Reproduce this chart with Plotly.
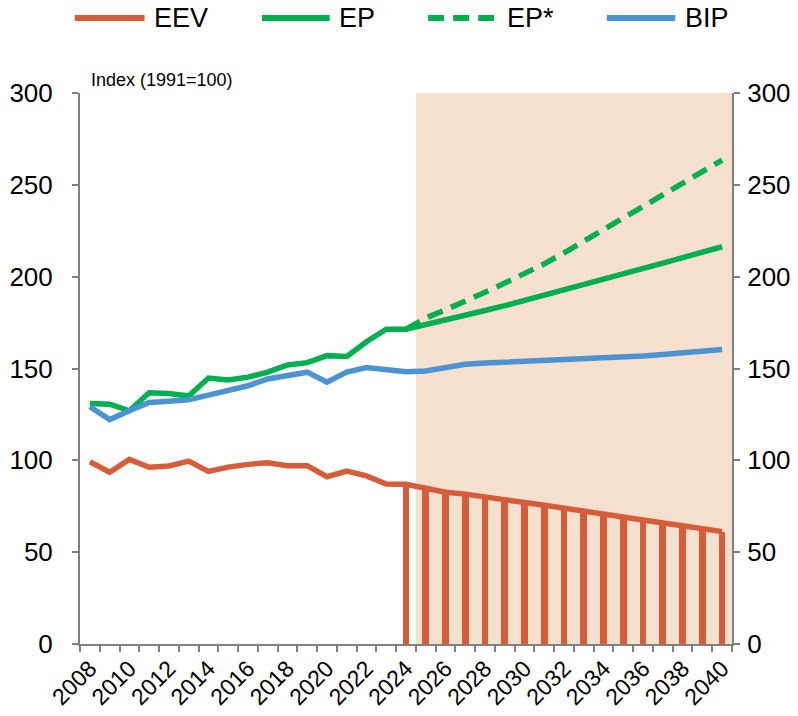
import plotly.graph_objects as go

years = list(range(2008, 2041))
year_labels = [str(y) for y in range(2008, 2041, 2)]

eev = [99.2, 93.5, 100.5, 96.2, 96.9, 99.6, 94.0, 96.3, 97.8, 98.7, 97.1, 97.1, 91.1, 94.2, 91.5, 87.1, 87.0,
       84.5, 82.6, 81.6, 80.3, 78.5, 77.0, 75.6, 73.9, 72.0, 70.4, 68.9, 67.3, 65.9, 64.4, 62.9, 61.2]
ep = [131.0, 130.6, 127.0, 136.8, 136.4, 135.0, 144.8, 143.7, 145.3, 148.0, 151.9, 153.2, 157.0, 156.6, 164.6, 171.4, 171.4,
      173.8, 176.4, 179.0, 181.6, 184.2, 187.0, 189.9, 192.8, 195.7, 198.6, 201.5, 204.4, 207.4, 210.4, 213.4, 216.3]
ep_star_years = list(range(2024, 2041))
ep_star = [171.4, 177.5, 182.0, 186.5, 191.5, 196.5, 201.5, 207.0, 213.0, 219.3, 225.3, 231.5, 238.0, 244.5, 251.0, 257.3, 263.5]
bip = [129.2, 122.2, 127.0, 131.5, 132.2, 133.0, 135.5, 137.9, 140.6, 144.3, 146.4, 148.0, 142.5, 148.0, 150.5, 149.2, 148.2,
       148.6, 150.5, 152.3, 153.0, 153.4, 153.8, 154.2, 154.6, 155.0, 155.5, 156.2, 156.8, 157.6, 158.5, 159.4, 160.4]
bar_years = list(range(2024, 2041))
bar_vals = eev[years.index(2024):]

RED = "#D65D3B"
GREEN = "#00B050"
BLUE = "#4C93D3"
SHADE = "#F5E1CD"
AXIS = "#808080"
FONT = "Liberation Sans"

fig = go.Figure()
fig.add_trace(go.Bar(x=bar_years, y=bar_vals, width=0.34, marker=dict(color=RED, line=dict(width=0)),
                     showlegend=False, hoverinfo="skip"))
fig.add_trace(go.Scatter(x=years, y=eev, mode="lines", name="EEV", line=dict(color=RED, width=5.5), showlegend=False))
fig.add_trace(go.Scatter(x=years, y=bip, mode="lines", name="BIP", line=dict(color=BLUE, width=5.5), showlegend=False,
                         yaxis="y2"))
fig.add_trace(go.Scatter(x=ep_star_years, y=ep_star, mode="lines", name="EP*",
                         line=dict(color=GREEN, width=5.5, dash="16px,9px"), showlegend=False))
fig.add_trace(go.Scatter(x=years, y=ep, mode="lines", name="EP", line=dict(color=GREEN, width=5.5), showlegend=False))

fig.add_shape(type="rect", xref="x", yref="y", x0=2024.5, x1=2040.5, y0=0, y1=300,
              fillcolor=SHADE, line=dict(width=0), layer="below")

# custom legend
leg_y = 1.136
items = [("EEV", RED, "solid", -0.008, 0.099, 0.110),
         ("EP", GREEN, "solid", 0.279, 0.383, 0.394),
         ("EP*", GREEN, "16px,9px", 0.534, 0.637, 0.652),
         ("BIP", BLUE, "solid", 0.808, 0.913, 0.925)]
for name, col, dash, x0, x1, xt in items:
    fig.add_shape(type="line", xref="paper", yref="paper", x0=x0, x1=x1, y0=leg_y, y1=leg_y,
                  line=dict(color=col, width=6, dash=dash))
    fig.add_annotation(xref="paper", yref="paper", x=xt, y=leg_y, text=name, showarrow=False,
                       xanchor="left", yanchor="middle", font=dict(size=27, color="black", family=FONT))

fig.add_annotation(xref="paper", yref="paper", x=0.014, y=1.024, text="Index (1991=100)", showarrow=False,
                   xanchor="left", yanchor="middle", font=dict(size=18, color="black", family=FONT))

yax = dict(range=[0, 300], tickvals=[0, 50, 100, 150, 200, 250, 300], ticks="outside", ticklen=6,
           tickwidth=2, tickcolor=AXIS, showline=True, linecolor=AXIS, linewidth=2, showgrid=False,
           zeroline=False, tickfont=dict(size=26, color="black", family=FONT), fixedrange=True,
           automargin=False)

fig.update_layout(
    width=798, height=716,
    margin=dict(l=80, r=66, t=93, b=72),
    paper_bgcolor="white", plot_bgcolor="white",
    bargap=0,
    font=dict(family=FONT, color="black"),
    xaxis=dict(range=[2007.5, 2040.5], tickvals=list(range(2008, 2041, 2)), ticktext=year_labels,
               tickangle=-45, ticks="", showline=True, linecolor=AXIS, linewidth=2, showgrid=False,
               zeroline=False, tickfont=dict(size=23, color="black", family=FONT), automargin=False,
               minor=dict(tickvals=[y - 0.5 for y in years] + [2040.5], ticks="outside", ticklen=6,
                          tickwidth=1.5, tickcolor=AXIS, showgrid=False)),
    yaxis=dict(**yax, side="left", ticklabelstandoff=14),
    yaxis2=dict(**yax, side="right", overlaying="y", anchor="x", ticklabelstandoff=2),
)

fig.write_html("out.html", config={"displayModeBar": False},
               post_script="document.body.style.margin='0px';document.body.style.overflow='hidden';")
